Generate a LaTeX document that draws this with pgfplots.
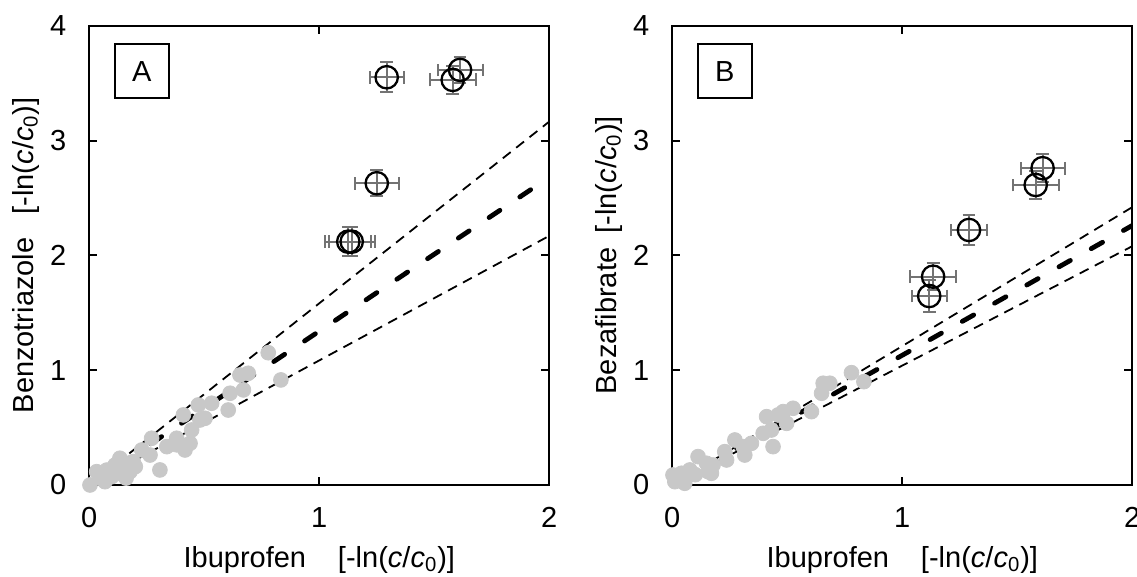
\documentclass[border=0pt]{standalone}
\usepackage{fontspec}
\setmainfont{Liberation Sans}
\usepackage{pgfplots}
\pgfplotsset{compat=1.18}
\usepackage{pgfplotstable}

\definecolor{ptgray}{RGB}{200,200,200}
\definecolor{errgray}{RGB}{115,115,115}

% gray points, panel A (Ibuprofen vs Benzotriazole)
\pgfplotstableread{
x y
0.003 0.000
0.032 0.116
0.068 0.029
0.076 0.130
0.050 0.060
0.097 0.072
0.112 0.174
0.120 0.120
0.133 0.233
0.140 0.150
0.148 0.087
0.163 0.189
0.160 0.060
0.177 0.116
0.191 0.203
0.200 0.160
0.228 0.305
0.264 0.261
0.271 0.407
0.307 0.131
0.337 0.334
0.380 0.407
0.380 0.350
0.409 0.610
0.416 0.305
0.438 0.363
0.445 0.479
0.474 0.697
0.481 0.566
0.503 0.581
0.532 0.712
0.604 0.653
0.612 0.799
0.655 0.958
0.670 0.828
0.691 0.973
0.778 1.152
0.833 0.915
}\ptsA

% gray points, panel B (Ibuprofen vs Bezafibrate)
\pgfplotstableread{
x y
0.003 0.087
0.011 0.029
0.020 0.060
0.040 0.102
0.054 0.015
0.076 0.131
0.100 0.090
0.112 0.247
0.149 0.189
0.156 0.116
0.170 0.102
0.177 0.174
0.228 0.290
0.236 0.218
0.272 0.392
0.308 0.334
0.315 0.261
0.344 0.363
0.395 0.450
0.410 0.595
0.431 0.479
0.438 0.334
0.460 0.610
0.482 0.639
0.497 0.537
0.525 0.668
0.605 0.639
0.649 0.799
0.656 0.886
0.685 0.886
0.779 0.978
0.833 0.900
}\ptsB

% open circles with error bars
\pgfplotstableread{
x y ex ey
1.293 3.551 0.074 0.130
1.612 3.615 0.098 0.116
1.580 3.528 0.100 0.120
1.250 2.628 0.096 0.115
1.126 2.119 0.100 0.128
1.141 2.119 0.100 0.128
}\circA

\pgfplotstableread{
x y ex ey
1.610 2.759 0.096 0.120
1.580 2.613 0.100 0.120
1.290 2.221 0.078 0.130
1.134 1.814 0.100 0.120
1.117 1.646 0.076 0.140
}\circB

\tikzset{
  tagbox/.style={draw, line width=1pt, minimum width=27pt, minimum height=27pt,
    inner sep=0pt, anchor=center},
}

\pgfplotsset{
  panel/.style={
    anchor=south west,
    width=230pt, height=229.65pt, scale only axis,
    xmin=0, xmax=2, ymin=0, ymax=4,
    xtick={0,1,2}, ytick={0,1,2,3,4},
    tick align=inside, major tick length=4pt,
    tick style={black, line width=1pt},
    axis line style={line width=1.1pt},
    xticklabel shift=7.5pt, yticklabel shift=8pt,
    /pgf/number format/assume math mode=true,
    font=\fontsize{14.5}{16}\selectfont,
    x label style={at={(axis description cs:0.5,-0.163)}, anchor=center},
    y label style={at={(axis description cs:-0.138,0.5)}, anchor=center},
    xlabel={Ibuprofen\hspace{1.1em}[-ln(\textit{c}/\textit{c}\textsubscript{0})]},
    clip=true,
  },
  thinline/.style={black, line width=0.9pt, dash pattern=on 5pt off 3.5pt},
  thickline/.style={black, line width=2.4pt, line cap=round, dash pattern=on 6.5pt off 12pt},
  grayset/.style={only marks, mark=*, mark size=3.7pt,
    mark options={draw=ptgray, fill=ptgray}},
  circset/.style={only marks, mark=o, mark size=5.6pt,
    mark options={black, line width=1.15pt},
    error bars/.cd,
      x dir=both, x explicit, y dir=both, y explicit,
      error bar style={errgray, line width=1pt},
      error mark options={rotate=90, errgray, mark size=3.2pt, line width=1pt}},
}

\begin{document}
\begin{tikzpicture}
\begin{axis}[panel, at={(44.65pt,46pt)},
  ylabel={Benzotriazole\hspace{0.8em}[-ln(\textit{c}/\textit{c}\textsubscript{0})]}]
\addplot[thinline] coordinates {(0,0) (2,3.165)};
\addplot[thinline] coordinates {(0,0) (2,2.17)};
\addplot[thickline] coordinates {(0,0) (2,2.68)};
\addplot[grayset] table[x=x,y=y] {\ptsA};
\addplot[circset] table[x=x,y=y,x error=ex,y error=ey] {\circA};
\node[tagbox] at (axis description cs:0.114,0.901) {A};
\end{axis}

\begin{axis}[panel, at={(336.15pt,46pt)},
  ylabel={Bezafibrate\hspace{0.5em}[-ln(\textit{c}/\textit{c}\textsubscript{0})]}]
\addplot[thinline] coordinates {(0,0) (2,2.42)};
\addplot[thinline] coordinates {(0,0) (2,2.08)};
\addplot[thickline] coordinates {(0,0) (2,2.26)};
\addplot[grayset] table[x=x,y=y] {\ptsB};
\addplot[circset] table[x=x,y=y,x error=ex,y error=ey] {\circB};
\node[tagbox] at (axis description cs:0.114,0.901) {B};
\end{axis}

\pgfresetboundingbox
\path[use as bounding box] (0,0) rectangle (568.5pt,288.5pt);
\end{tikzpicture}
\end{document}
